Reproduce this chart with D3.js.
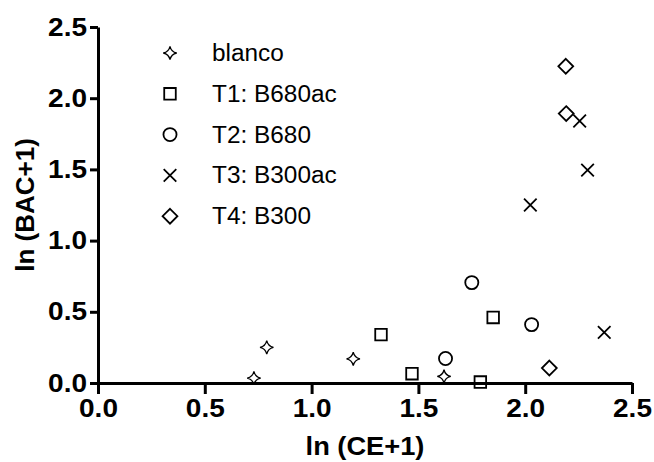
<!DOCTYPE html>
<html>
<head>
<meta charset="utf-8">
<script src="https://cdn.jsdelivr.net/npm/d3@7"></script>
<style>
  body { margin: 0; background: #fff; }
  svg { display: block; }
  .axis path, .axis line { stroke: #000; stroke-width: 3px; }
  .axis text { font-family: "Liberation Sans", Arial, sans-serif; font-weight: bold; font-size: 25px; fill: #000; }
  .title { font-family: "Liberation Sans", Arial, sans-serif; font-weight: bold; font-size: 25px; }
  .legend text { font-family: "Liberation Sans", Arial, sans-serif; font-size: 23px; }
  .mark { fill: none; stroke: #000; stroke-width: 1.8px; }
  .mark.star { stroke-width: 1.3px; }
</style>
</head>
<body>
<script>
// series names and point values
var seriesNames = ['blanco', 'T1: B680ac', 'T2: B680', 'T3: B300ac', 'T4: B300'];
var blanco = [[0.73, 0.035], [0.79, 0.25], [1.195, 0.17], [1.62, 0.046]];
var t1 = [[1.325, 0.34], [1.47, 0.065], [1.79, 0.007], [1.85, 0.46]];
var t2 = [[1.627, 0.172], [1.75, 0.705], [2.03, 0.41]];
var t3 = [[2.024, 1.25], [2.255, 1.84], [2.292, 1.495], [2.37, 0.355]];
var t4 = [[2.19, 2.224], [2.192, 1.892], [2.113, 0.105]];
var xTicks = [0, 0.5, 1.0, 1.5, 2.0, 2.5];
var yTicks = [0, 0.5, 1.0, 1.5, 2.0, 2.5];

var margin = {top: 27, right: 22, bottom: 79, left: 98},
    width = 654 - margin.left - margin.right,
    height = 462 - margin.top - margin.bottom;

// 4 pointed star with hollow sides
var star4 = {
  draw: function(ctx, size) {
    var r = Math.sqrt(size) * 0.75, k = r * 0.18;
    ctx.moveTo(0, -r);
    ctx.quadraticCurveTo(k, -k, r, 0);
    ctx.quadraticCurveTo(k, k, 0, r);
    ctx.quadraticCurveTo(-k, k, -r, 0);
    ctx.quadraticCurveTo(-k, -k, 0, -r);
    ctx.closePath();
  }
};

var symbols = [star4, d3.symbolSquare2, d3.symbolCircle, d3.symbolX, d3.symbolDiamond2];
var sizes = [80, 170, 135, 105, 140];
var data = [blanco, t1, t2, t3, t4];

// widen glyphs a little, the source font runs wider than Arial
function stretch(sel, f) {
  sel.each(function() {
    var w = this.getComputedTextLength();
    d3.select(this).attr('textLength', w * f).attr('lengthAdjust', 'spacingAndGlyphs');
  });
}

var svg = d3.select('body').append('svg')
    .attr('width', 654)
    .attr('height', 462);

var g = svg.append('g')
    .attr('transform', 'translate(' + margin.left + ',' + margin.top + ')');

var x = d3.scaleLinear().domain([0, 2.5]).range([0, width]);
var y = d3.scaleLinear().domain([0, 2.5]).range([height, 0]);

// axes
var xAxisG = g.append('g').attr('class', 'axis')
  .attr('transform', 'translate(0,' + height + ')')
  .call(d3.axisBottom(x).tickValues(xTicks).tickFormat(d3.format('.1f')).tickSize(11).tickSizeOuter(0).tickPadding(5));

var yAxisG = g.append('g').attr('class', 'axis')
  .call(d3.axisLeft(y).tickValues(yTicks).tickFormat(d3.format('.1f')).tickSize(8).tickSizeOuter(0).tickPadding(3));

stretch(xAxisG.selectAll('text'), 1.12);
stretch(yAxisG.selectAll('text'), 1.12);

// points
data.forEach(function(series, i) {
  g.selectAll('.s' + i)
    .data(series)
    .enter().append('path')
    .attr('class', 'mark s' + i + (i === 0 ? ' star' : ''))
    .attr('transform', function(d) { return 'translate(' + x(d[0]) + ',' + y(d[1]) + ')'; })
    .attr('d', d3.symbol().type(symbols[i]).size(sizes[i]));
});

// legend
var legend = svg.append('g').attr('class', 'legend')
  .attr('transform', 'translate(170,53)');

seriesNames.forEach(function(name, i) {
  var row = legend.append('g').attr('transform', 'translate(0,' + (i * 40.8) + ')');
  row.append('path').attr('class', 'mark' + (i === 0 ? ' star' : ''))
    .attr('d', d3.symbol().type(symbols[i]).size(sizes[i]));
  row.append('text').attr('x', 42).attr('dy', '0.35em').text(name);
});
stretch(legend.selectAll('text'), 1.06);

// axis titles
var xTitle = svg.append('text').attr('class', 'title')
  .attr('text-anchor', 'middle')
  .attr('x', margin.left + width / 2)
  .attr('y', 455)
  .text('ln (CE+1)');

var yTitle = svg.append('text').attr('class', 'title')
  .attr('text-anchor', 'middle')
  .attr('transform', 'rotate(-90)')
  .attr('x', -(margin.top + height / 2))
  .attr('y', 34)
  .text('ln (BAC+1)');

stretch(xTitle, 1.09);
stretch(yTitle, 1.04);
</script>
</body>
</html>
